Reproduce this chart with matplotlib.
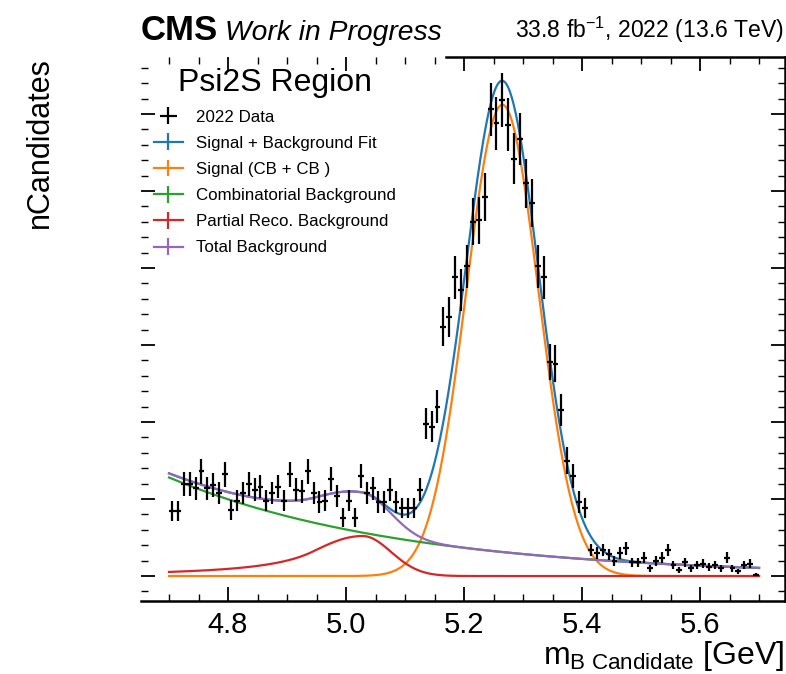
import numpy as np
import matplotlib
matplotlib.use("Agg")
import matplotlib.pyplot as plt
from matplotlib.ticker import MultipleLocator, NullFormatter

plt.rcParams["font.family"] = ["Liberation Sans", "DejaVu Sans"]
plt.rcParams["mathtext.fontset"] = "custom"
plt.rcParams["mathtext.rm"] = "Liberation Sans"
plt.rcParams["mathtext.it"] = "Liberation Sans:italic"
plt.rcParams["mathtext.bf"] = "Liberation Sans:bold"

# ---------------- data ----------------
mass_lo, mass_hi, n_bins = 4.70, 5.70, 100
counts = [42, 42, 60, 60, 57, 68, 57, 59, 54, 66,
          43, 49, 54, 60, 56, 58, 49, 54, 58, 49,
          66, 56, 55, 68, 54, 48, 49, 63, 52, 38,
          49, 38, 65, 54, 57, 48, 48, 56, 48, 44,
          44, 44, 56, 99, 97, 110, 162, 168, 194, 186,
          201, 230, 231, 246, 303, 294, 309, 293, 271, 284,
          255, 242, 201, 194, 139, 138, 108, 75, 65, 48,
          44, 17, 15, 17, 14, 10, 15, 18, 9, 9,
          12, 5, 10, 12, 17, 7, 4, 9, 5, 7,
          8, 6, 7, 5, 12, 5, 3, 7, 8, 1]

# fit parameters
sig_mean, sig_sigma, sig_peak = 5.265, 0.061, 306.0
comb_ref, comb_norm, comb_slope = 4.70, 64.0, -2.5
prc_mean, prc_sigL, prc_sigR, prc_alpha, prc_n, prc_peak = 5.028, 0.085, 0.048, 1.0, 2.0, 26.0

labels = ["2022 Data", "Signal + Background Fit", "Signal (CB + CB )",
          "Combinatorial Background", "Partial Reco. Background", "Total Background"]


def gauss(x, mu, s, a):
    return a * np.exp(-0.5 * ((x - mu) / s) ** 2)


def bifur_cb(x, mu, sl, sr, alpha, n, a):
    t = np.where(x < mu, (x - mu) / sl, (x - mu) / sr)
    out = np.exp(-0.5 * t ** 2)
    tail = t < -alpha
    A = (n / alpha) ** n * np.exp(-0.5 * alpha ** 2)
    B = n / alpha - alpha
    out[tail] = A * (B - t[tail]) ** (-n)
    return a * out


edges = np.linspace(mass_lo, mass_hi, n_bins + 1)
centers = 0.5 * (edges[1:] + edges[:-1])
half_w = 0.5 * (edges[1] - edges[0])
y = np.array(counts, dtype=float)
yerr = np.sqrt(y)

xf = np.linspace(mass_lo, mass_hi, 600)
sig = gauss(xf, sig_mean, sig_sigma, sig_peak)
comb = comb_norm * np.exp(comb_slope * (xf - comb_ref))
prc = bifur_cb(xf, prc_mean, prc_sigL, prc_sigR, prc_alpha, prc_n, prc_peak)
bkg = comb + prc
tot = sig + bkg

# ---------------- figure ----------------
W, H = 786, 674
fig = plt.figure(figsize=(W / 100, H / 100), dpi=100)
ax = fig.add_axes([141 / W, 73 / H, 644 / W, 544 / H])

hd = ax.errorbar(centers, y, yerr=yerr, xerr=half_w, fmt="none", ecolor="black",
                 elinewidth=1.6, label=labels[0], zorder=5)
handles = [hd]
for curve, col, lab in [(tot, "C0", labels[1]), (sig, "C1", labels[2]),
                        (comb, "C2", labels[3]), (prc, "C3", labels[4]),
                        (bkg, "C4", labels[5])]:
    h = ax.errorbar(xf, curve, yerr=np.zeros_like(curve), color=col, lw=1.6,
                    elinewidth=1.6, label=lab)
    handles.append(h)

ax.set_xlim(4.6525, 5.744)
ax.set_ylim(-16.2, 337.0)
ax.xaxis.set_major_locator(MultipleLocator(0.2))
ax.xaxis.set_minor_locator(MultipleLocator(0.05))
ax.yaxis.set_major_locator(MultipleLocator(50))
ax.yaxis.set_minor_locator(MultipleLocator(10))
ax.yaxis.set_major_formatter(NullFormatter())
ax.tick_params(which="both", direction="in", top=True, right=True)
ax.tick_params(which="major", length=10, width=1.3, labelsize=21, pad=7)
ax.tick_params(which="minor", length=5, width=1.0)
for s in ax.spines.values():
    s.set_linewidth(1.8)
ax.spines["left"].set_visible(False)
ax.spines["top"].set_bounds(5.17, 5.744)

ax.set_xlabel(r"$\mathrm{m_{B\ Candidate}}$ [GeV]", fontsize=23, loc="right")
ax.xaxis.set_label_coords(1.0, -0.07)
ax.set_ylabel("nCandidates", fontsize=22, loc="top")
ax.yaxis.set_label_coords(-0.133, 1.0)

leg = ax.legend(handles=handles, labels=labels, loc="upper left", frameon=False,
                fontsize=12.2, title="Psi2S Region", title_fontsize=23,
                handlelength=1.7, handletextpad=0.8, labelspacing=0.66,
                borderaxespad=0.0, borderpad=0.35, bbox_to_anchor=(0.011, 0.99))

fig.text(141 / W, 1 - 40 / H, "CMS", fontsize=25, fontweight="bold", ha="left", va="baseline")
fig.text(225 / W, 1 - 40 / H, "Work in Progress", fontsize=20.3, style="italic",
         ha="left", va="baseline")
fig.text(784 / W, 1 - 38 / H, r"33.8 fb$^{-1}$, 2022 (13.6 TeV)", fontsize=16.6,
         ha="right", va="baseline")

fig.savefig("out.png", dpi=100)
